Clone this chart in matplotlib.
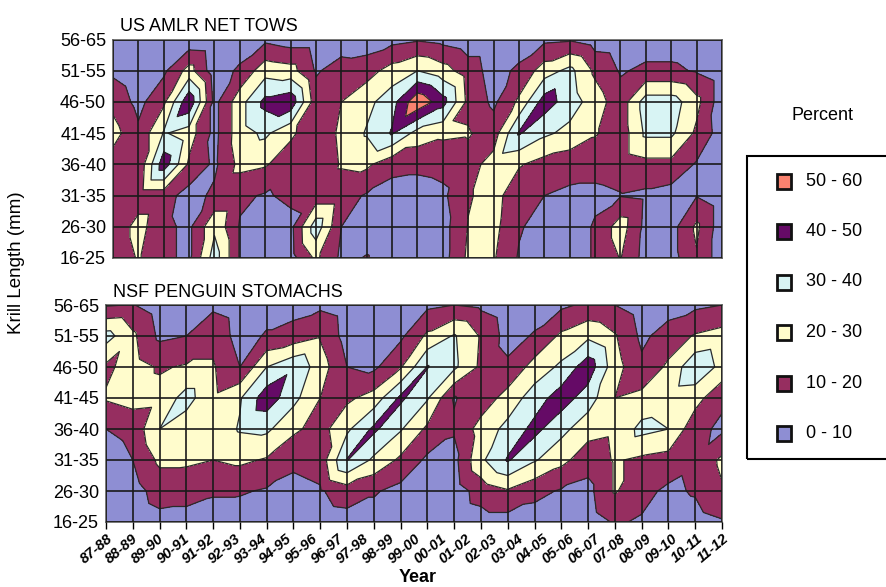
import numpy as np
import matplotlib.pyplot as plt
import matplotlib.tri as mtri
from matplotlib.patches import Rectangle

plt.rcParams['font.family'] = ['Liberation Sans', 'DejaVu Sans']

years = ['87-88', '88-89', '89-90', '90-91', '91-92', '92-93', '93-94', '94-95',
         '95-96', '96-97', '97-98', '98-99', '99-00', '00-01', '01-02', '02-03',
         '03-04', '04-05', '05-06', '06-07', '07-08', '08-09', '09-10', '10-11', '11-12']
sizes = ['16-25', '26-30', '31-35', '36-40', '41-45', '46-50', '51-55', '56-65']

levels = [0, 10, 20, 30, 40, 50, 60]
band_labels = ['0 - 10', '10 - 20', '20 - 30', '30 - 40', '40 - 50', '50 - 60']
band_colors = ['#8e8ed3', '#962e60', '#fffccc', '#d8f4f4', '#650a66', '#f9826f']

# % of krill per size class (16-25 ... 56-65), one row per season
net_tows = [
    [12, 12, 14, 15, 24, 17, 8, 3],     # 87-88
    [21, 24, 14, 12, 12, 7, 3, 2],
    [12, 12, 14, 46, 31, 18, 8, 2],
    [8, 8, 6, 18, 25, 48, 24, 3],
    [35, 28, 12, 8, 7, 7, 4, 2],
    [9, 9, 12, 23, 26, 26, 12, 3],
    [3, 4, 9, 21, 32, 43, 26, 8],
    [6, 7, 12, 14, 22, 47, 24, 5],
    [22, 36, 14, 12, 13, 14, 9, 5],     # 95-96
    [8, 10, 14, 21, 22, 20, 14, 5],
    [10.5, 6, 9, 22, 31, 27, 16, 4],
    [5, 5, 6, 13, 41, 36, 24, 7],
    [5, 5, 6, 12, 26, 58, 30, 9],       # 99-00
    [6, 6, 8, 13, 22, 44, 24, 7],
    [22, 20.5, 19, 16, 21, 17, 15, 4],
    [21, 23, 24, 24, 15, 8, 6, 4],
    [9, 11, 13, 21, 41, 22, 12, 4],     # 03-04
    [5, 6, 10, 16, 32, 45, 25, 8],
    [5, 5, 8, 14, 27, 35, 33, 9],
    [11, 11, 8, 13, 21, 25, 18, 5],
    [20.5, 25, 9.5, 14, 14, 14, 9, 4],  # 07-08
    [6, 7, 8, 17, 32, 35, 12, 5],
    [6, 6, 6, 17, 32, 35, 12, 5],
    [19, 22, 9.5, 9, 18, 23, 9, 4],
    [4, 4, 4, 4, 5, 4, 4, 3],           # 11-12
]

# penguin diet samples start one season later (88-89)
penguin_diet = [
    [4, 4, 5, 10, 21, 18, 34, 9],       # 88-89
    [4, 6, 10, 13, 24, 24, 22, 10.5],
    [7, 14, 22, 30, 23, 19, 8, 5],
    [7, 13, 22, 24, 34, 21, 10, 5],
    [6, 11, 20, 23, 22, 21, 17, 8],
    [5, 11, 22, 31, 29, 10, 6, 5],
    [5, 9, 19, 32, 46, 30, 11, 6],
    [5, 7, 12, 22, 33, 38, 14, 6],
    [5, 9, 14, 16, 20, 25, 19, 8],      # 96-97
    [6, 15, 40.5, 28, 18, 10, 6, 5],
    [6, 11, 28, 42, 24, 8, 5, 4],
    [5, 7, 18, 31, 42, 19, 8, 5],
    [4, 5, 8, 18, 31, 40.5, 22, 8],     # 00-01
    [4, 5, 7, 11, 9.5, 32, 31, 10],
    [6, 14, 28, 24, 14, 18, 19, 8],
    [6, 19, 41, 33, 24, 12, 6, 4],
    [5, 13, 31, 43, 35, 24, 11, 5],     # 04-05
    [5, 9, 23, 33, 45, 32, 22, 8],
    [5, 7, 14, 24, 35, 46, 28, 12],
    [11, 21, 21, 22, 20, 24, 21, 10],
    [9, 13, 18, 33, 23, 12, 8, 5],      # 08-09
    [5, 8, 16, 30, 25, 22, 14, 6],
    [6, 11, 12, 13, 24, 38, 21, 8],
    [9, 19, 22, 8, 12, 27, 24, 10],     # 11-12
]

W, H = 887, 587
fig = plt.figure(figsize=(W / 100, H / 100), dpi=100)
ax1 = fig.add_axes([113 / W, 1 - 258 / H, 609 / W, 218.5 / H])
ax2 = fig.add_axes([106 / W, 1 - 522 / H, 616 / W, 217 / H])


def grid_mesh(nx, ny):
    # split every cell along its lower-left / upper-right diagonal
    xs = np.tile(np.arange(nx), ny)
    ys = np.repeat(np.arange(ny), nx)
    tris = []
    for j in range(ny - 1):
        for i in range(nx - 1):
            a = j * nx + i
            tris.append([a, a + 1, a + nx + 1])
            tris.append([a, a + nx + 1, a + nx])
    return mtri.Triangulation(xs, ys, tris)


def draw_panel(ax, data, title):
    z = np.array(data, dtype=float).T      # (size, season)
    ny, nx = z.shape
    mesh = grid_mesh(nx, ny)
    ax.tricontourf(mesh, z.ravel(), levels=levels, colors=band_colors)
    ax.tricontour(mesh, z.ravel(), levels=levels[1:-1], colors='#2a2a2a',
                  linewidths=0.9)
    ax.set_xlim(0, nx - 1)
    ax.set_ylim(0, ny - 1)
    ax.set_xticks(np.arange(nx))
    ax.set_yticks(np.arange(ny))
    ax.set_yticklabels(sizes, fontsize=13)
    ax.tick_params(axis='y', length=0, pad=5)
    ax.grid(True, color='#1a1a1a', linewidth=1.2)
    ax.set_axisbelow(False)
    for s in ax.spines.values():
        s.set_color('#606060')
        s.set_linewidth(1.2)
    ax.set_title(title, loc='left', fontsize=13, pad=6, x=0.012)


draw_panel(ax1, net_tows, 'US AMLR NET TOWS')
draw_panel(ax2, penguin_diet, 'NSF PENGUIN STOMACHS')
ax1.tick_params(axis='x', length=0, labelbottom=False)
ax2.tick_params(axis='x', length=5, width=1, labelbottom=False)

# season labels run a little tighter than the grid
n = len(years)
for k, lab in enumerate(years):
    ax2.text(k * (len(penguin_diet) - 1) / (n - 1), -0.045, lab,
             transform=ax2.get_xaxis_transform(), rotation=40,
             rotation_mode='anchor', ha='right', va='top',
             fontsize=10.5, fontweight='bold', fontstyle='italic')

fig.text(418 / W, 1 - 578 / H, 'Year', ha='center', va='center',
         fontsize=13, fontweight='bold')
fig.text(17 / W, 1 - 263 / H, 'Krill Length (mm)', rotation=90,
         ha='center', va='center', fontsize=13.5)

# legend
fig.text(823 / W, 1 - 116 / H, 'Percent', ha='center', va='center', fontsize=13)
fig.add_artist(Rectangle((747 / W, 1 - 459 / H), 160 / W, 303 / H,
                         transform=fig.transFigure, fill=False,
                         edgecolor='k', linewidth=1.5))
for i, (lab, col) in enumerate(zip(band_labels[::-1], band_colors[::-1])):
    yc = 181 + i * 50.5
    fig.add_artist(Rectangle((777 / W, 1 - (yc + 7.5) / H), 14 / W, 15 / H,
                             transform=fig.transFigure, facecolor=col,
                             edgecolor='#111111', linewidth=2))
    fig.text(806 / W, 1 - yc / H, lab, ha='left', va='center', fontsize=13)

fig.savefig('out.png', dpi=100)
